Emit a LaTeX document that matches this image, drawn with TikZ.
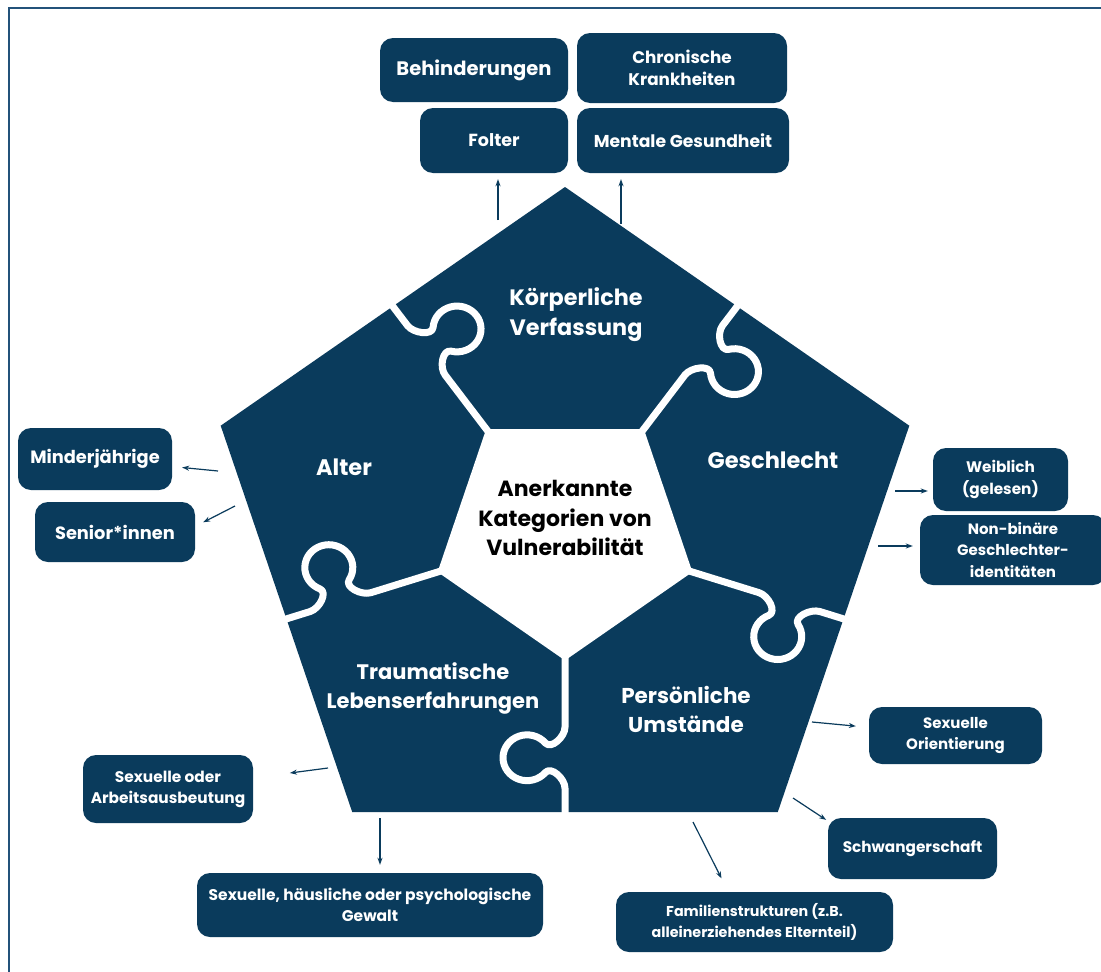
\documentclass[tikz,border=0pt]{standalone}
\usepackage{fontspec}
\setmainfont{Poppins}
\usetikzlibrary{arrows.meta}
\definecolor{navy}{HTML}{0A3B5C}
\definecolor{framec}{HTML}{23527A}
\newcommand\knobpath{(0,126) -- (0,204) .. controls (0,214) and (-13.83,227.47) .. (-19.615,220.573) .. controls (-26.10,212.84) and (-36.73,209.996) .. (-46.21,213.45) .. controls (-55.69,216.90) and (-62,225.91) .. (-62,236) .. controls (-62,246.09) and (-55.69,255.10) .. (-46.21,258.55) .. controls (-36.73,262.00) and (-26.10,259.16) .. (-19.615,251.427) .. controls (-13.83,244.53) and (0,258) .. (0,268) -- (0,300)}
\newcommand\fz[2]{\fontsize{#1}{#2}\selectfont\bfseries}
\begin{document}
\begin{tikzpicture}[x=1pt,y=-1pt,
  box/.style={fill=navy, rounded corners=13pt, text=white, align=center, inner sep=0pt},
  piece/.style={text=white, align=center},
  hub/.style={text=black, align=center, font={\fz{22}{29.5}}},
  arr/.style={draw=navy, line width=1.2pt, -{Stealth[length=7pt,width=5pt]}}]
\useasboundingbox (0,0) rectangle (1101,972);
\fill[white] (0,0) rectangle (1101,972);
\draw[framec, line width=2.4pt] (1110,8) -- (9,8) -- (9,990);

% pentagon puzzle
\fill[navy] (565,187) -- (909.3,425.7) -- (777.8,812) -- (352.2,812) -- (220.7,425.7) -- cycle;
\fill[white] (486.2,429) -- (643.8,429) -- (692.4,572) -- (565,660.4) -- (437.6,572) -- cycle;
\foreach \a in {0,72,144,216,288}{
  \begin{scope}[shift={(565,532.5)}, yscale=0.9544, rotate=\a]
    \draw[white, line width=7pt, line join=round] \knobpath;
  \end{scope}
}

% labels on pieces
\node[piece, font={\fz{22.3}{30}}] (kv) at (576,315) {Körperliche\\Verfassung};
\node[piece, font={\fz{22.5}{30}}] (ge) at (773,460) {Geschlecht};
\node[piece, font={\fz{22.5}{30}}] (al) at (344,467) {Alter};
\node[piece, font={\fz{21}{29}}] (tr) at (433,688) {Traumatische\\Lebenserfahrungen};
\node[piece, font={\fz{21.5}{29}}] (pu) at (686,709) {Persönliche\\Umstände};
\node[hub] (ak) at (565,518) {Anerkannte\\Kategorien von\\Vulnerabilität};

% boxes
\node[box, font={\fz{19.5}{22}}, minimum width=188pt, minimum height=64pt] (beh) at (474,70) {Behinderungen};
\node[box, font={\fz{16.8}{22}}, minimum width=210pt, minimum height=70pt] (chr) at (682,68) {Chronische\\Krankheiten};
\node[box, font={\fz{17.5}{22}}, minimum width=148pt, minimum height=65pt] (fol) at (494,140.5) {Folter};
\node[box, font={\fz{17.2}{22}}, minimum width=212pt, minimum height=65pt] (men) at (683,140.5) {Mentale Gesundheit};
\node[box, font={\fz{17.8}{22}}, minimum width=154pt, minimum height=62pt] (mind) at (95,459) {Minderjährige};
\node[box, font={\fz{17.8}{22}}, minimum width=160pt, minimum height=60pt] (sen) at (115,532) {Senior*innen};
\node[box, font={\fz{15.3}{22}}, minimum width=135pt, minimum height=63pt] (wei) at (1000.5,479.5) {Weiblich\\(gelesen)};
\node[box, font={\fz{15}{21.5}}, minimum width=186pt, minimum height=70pt] (non) at (1013,550) {Non-binäre\\Geschlechter-\\identitäten};
\node[box, font={\fz{15}{21}}, minimum width=173pt, minimum height=57pt] (ori) at (955.5,735.5) {Sexuelle\\Orientierung};
\node[box, font={\fz{15.3}{21}}, minimum width=169pt, minimum height=61pt] (sch) at (912.5,848.5) {Schwangerschaft};
\node[box, font={\fz{14.3}{21}}, minimum width=277pt, minimum height=60pt] (fam) at (754.5,922) {Familienstrukturen (z.B.\\alleinerziehendes Elternteil)};
\node[box, font={\fz{15.4}{21}}, minimum width=170pt, minimum height=68pt] (aus) at (168,789) {Sexuelle oder\\Arbeitsausbeutung};
\node[box, font={\fz{15.5}{21}}, minimum width=346pt, minimum height=64pt] (gew) at (370,905) {Sexuelle, häusliche oder psychologische\\Gewalt};

% arrow tails
\coordinate (tfol) at (498,220);
\coordinate (tmen) at (621,224);
\coordinate (tmin) at (218,471);
\coordinate (tsen) at (235,506);
\coordinate (twei) at (895,491);
\coordinate (tnon) at (878,546);
\coordinate (tori) at (812,722);
\coordinate (tsch) at (793,798);
\coordinate (tfam) at (693,822);
\coordinate (taus) at (328,768);
\coordinate (tgew) at (380,818);

\draw[arr, shorten >=6pt] (tfol) -- (tfol |- fol.south);
\draw[arr, shorten >=6pt] (tmen) -- (tmen |- men.south);
\draw[arr, shorten >=10pt] (tmin) -- (mind);
\draw[arr, shorten >=9pt] (tsen) -- (sen.4);
\draw[arr, shorten >=5pt] (twei) -- (twei -| wei.west);
\draw[arr, shorten >=7pt] (tnon) -- (tnon -| non.west);
\draw[arr, shorten >=13pt] (tori) -- (ori);
\draw[arr, shorten >=2pt] (tsch) -- (sch.162);
\draw[arr, shorten >=15pt] (tfam) -- (fam.131);
\draw[arr, shorten >=37pt] (taus) -- (aus);
\draw[arr, shorten >=8pt] (tgew) -- (tgew |- gew.north);
\end{tikzpicture}
\end{document}
